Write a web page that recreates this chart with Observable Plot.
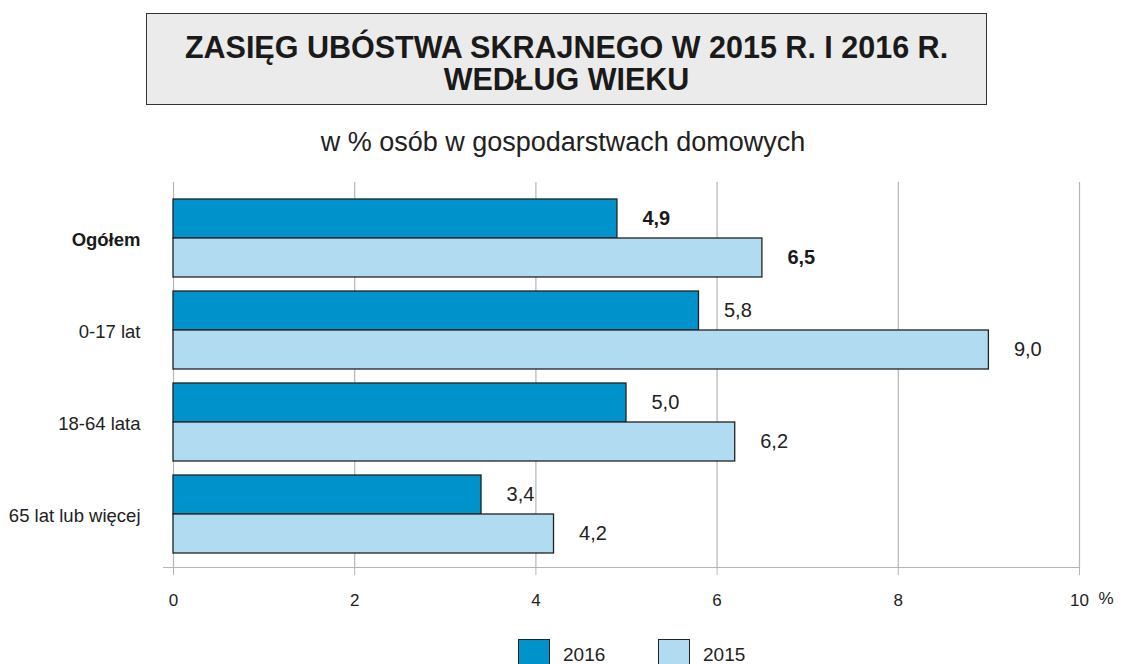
<!DOCTYPE html>
<html>
<head>
<meta charset="utf-8">
<script src="https://cdn.jsdelivr.net/npm/d3@7"></script>
<script src="https://cdn.jsdelivr.net/npm/@observablehq/plot@0.6"></script>
<style>
  html, body { margin: 0; padding: 0; background: #fff; width: 1126px; height: 664px; overflow: hidden; position: relative; font-family: "Liberation Sans", Arial, sans-serif; color: #222; }
  #title { position: absolute; left: 146px; top: 13px; width: 839px; border: 1.5px solid #333; background: #ebebeb; text-align: center; font-weight: bold; font-size: 30.5px; line-height: 32px; padding-top: 17px; height: 73px; color: #1a1a1a; }
  #subtitle { position: absolute; left: 0; width: 1126px; top: 127px; text-align: center; font-size: 27px; color: #222; }
  #chart { position: absolute; left: 0; top: 170px; }
  #legend { position: absolute; top: 639px; left: 0; width: 1126px; }
  .sw { position: absolute; width: 32px; height: 30px; border: 1.5px solid #222; box-sizing: border-box; }
  .lt { position: absolute; top: 5px; font-size: 19px; color: #222; }
</style>
</head>
<body>
<div id="title">ZASIĘG UBÓSTWA SKRAJNEGO W 2015 R. I 2016 R.<br>WEDŁUG WIEKU</div>
<div id="subtitle">w % osób w gospodarstwach domowych</div>
<div id="chart"></div>
<div id="legend"></div>
<script>
const categories = ["Ogółem", "0-17 lat", "18-64 lata", "65 lat lub więcej"];
const values2016 = [4.9, 5.8, 5.0, 3.4];
const values2015 = [6.5, 9.0, 6.2, 4.2];
const seriesNames = ["2016", "2015"];
const seriesColors = ["#0092ca", "#b0dbf1"];
const xTicks = [0, 2, 4, 6, 8, 10];
const unitLabel = "%";

const rows = categories.map((c, i) => ({cat: c, v2016: values2016[i], v2015: values2015[i], bold: i === 0}));
const fmt = d => d3.format(".1f")(d).replace(".", ",");
const boldRows = rows.filter(d => d.bold);
const normalRows = rows.filter(d => !d.bold);

const chart = Plot.plot({
  width: 1126,
  height: 450,
  marginLeft: 173,
  marginRight: 47,
  marginTop: 12,
  marginBottom: 53,
  style: {fontFamily: "'Liberation Sans', Arial, sans-serif", fontSize: "17px", color: "#222", background: "transparent"},
  x: {domain: [0, 10], ticks: xTicks},
  y: {domain: categories, range: [22, 390], padding: 0, axis: null},
  marks: [
    Plot.ruleX(xTicks, {stroke: "#b5b5b5", strokeWidth: 1.2}),
    Plot.frame({anchor: "bottom", stroke: "#b5b5b5", strokeWidth: 1.2, insetLeft: -10}),
    Plot.axisX({ticks: xTicks, tickSize: 8, tickPadding: 18, stroke: "#b5b5b5", fill: "#222", tickFormat: d => String(d), fontSize: 17}),
    Plot.barX(rows, {x: "v2016", y: "cat", fill: seriesColors[0], stroke: "#222", strokeWidth: 1.3, insetTop: 7, insetBottom: 46}),
    Plot.barX(rows, {x: "v2015", y: "cat", fill: seriesColors[1], stroke: "#222", strokeWidth: 1.3, insetTop: 46, insetBottom: 7}),
    Plot.text(normalRows, {x: "v2016", y: "cat", text: d => fmt(d.v2016), dx: 25, dy: -19.5, textAnchor: "start", fontSize: 20, fill: "#222"}),
    Plot.text(normalRows, {x: "v2015", y: "cat", text: d => fmt(d.v2015), dx: 25, dy: 19.5, textAnchor: "start", fontSize: 20, fill: "#222"}),
    Plot.text(boldRows, {x: "v2016", y: "cat", text: d => fmt(d.v2016), dx: 25, dy: -19.5, textAnchor: "start", fontSize: 20, fontWeight: "bold", fill: "#1a1a1a"}),
    Plot.text(boldRows, {x: "v2015", y: "cat", text: d => fmt(d.v2015), dx: 25, dy: 19.5, textAnchor: "start", fontSize: 20, fontWeight: "bold", fill: "#1a1a1a"}),
    Plot.text(normalRows, {y: "cat", text: "cat", frameAnchor: "left", dx: -33, dy: 2, textAnchor: "end", fontSize: 18.5, fill: "#222"}),
    Plot.text(boldRows, {y: "cat", text: "cat", frameAnchor: "left", dx: -33, dy: 2, textAnchor: "end", fontSize: 18.5, fontWeight: "bold", fill: "#1a1a1a"}),
    Plot.text([unitLabel], {text: d => d, frameAnchor: "bottom-right", dx: 34, dy: 36, fontSize: 17, fill: "#222"})
  ]
});
document.getElementById("chart").appendChild(chart);

const legend = document.getElementById("legend");
const legendX = [518, 658];
seriesNames.forEach((name, i) => {
  const sw = document.createElement("div");
  sw.className = "sw";
  sw.style.left = legendX[i] + "px";
  sw.style.background = seriesColors[i];
  legend.appendChild(sw);
  const t = document.createElement("div");
  t.className = "lt";
  t.style.left = (legendX[i] + 45) + "px";
  t.textContent = name;
  legend.appendChild(t);
});
</script>
</body>
</html>
